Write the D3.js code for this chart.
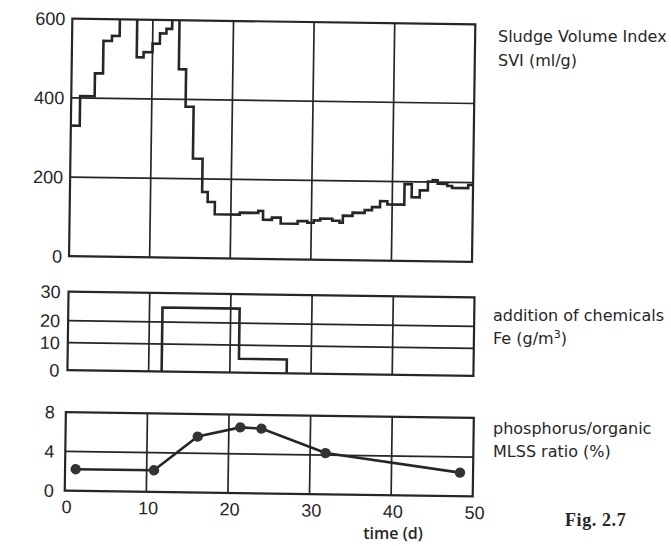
<!DOCTYPE html>
<html><head><meta charset="utf-8">
<script src="https://cdn.jsdelivr.net/npm/d3@7/dist/d3.min.js"></script>
<style>body{margin:0;background:#fff}</style></head>
<body><svg id="c" width="671" height="546"></svg>
<script>
// ---- data ----
const xTicks = [0, 10, 20, 30, 40, 50];

const sviDays   = [0, 1.1, 2.9, 3.9, 4.95, 5.9, 8.05, 8.9, 10.0, 10.9, 11.7, 12.4, 13.3, 14.2, 15.2, 16.4, 17.1, 18.0, 21.1, 23.4, 24.0, 25.1, 26.2, 28.3, 29.5, 30.3, 31.1, 32.6, 33.5, 33.9, 35.1, 36.6, 37.5, 38.5, 39.4, 41.5, 42.4, 43.4, 44.4, 45.0, 45.6, 46.8, 47.4, 49.4];
const sviValues = [330, 405, 463, 545, 558, 640, 505, 518, 540, 566, 578, 640, 476, 382, 251, 167, 142, 111, 116, 121, 99, 105, 90, 97, 93, 99, 104, 99, 94, 112, 120, 127, 135, 150, 142, 194, 161, 179, 201, 205, 196, 191, 186, 194];
const sviTicks  = [0, 200, 400, 600];

const feDays   = [11.6, 11.6, 21.1, 27.0];
const feValues = [0, 25, 5, 0];
const feTicks  = [0, 10, 20, 30];

const pDays   = [1.3, 10.9, 16.2, 21.4, 24.0, 31.9, 48.4];
const pValues = [2.2, 2.2, 5.7, 6.7, 6.6, 4.2, 2.4];
const pTicks  = [0, 4, 8];

const labels = {
  svi: ["Sludge Volume Index", "SVI (ml/g)"],
  fe: ["addition of chemicals", "Fe (g/m"],
  p: ["phosphorus/organic", "MLSS ratio (%)"],
  xTitle: "time (d)",
  fig: "Fig. 2.7"
};

// ---- drawing ----
const ink = "#262626";
const svg = d3.select("#c");
svg.append("rect").attr("width", 671).attr("height", 546).attr("fill", "#fff");
const chart = svg.append("g").attr("transform", "rotate(0.8,270,260)");
const tickFont = "'Liberation Sans', Arial, sans-serif";

function panel(id, xr, y, ticks, tickX) {
  const x = d3.scaleLinear().domain([0, 50]).range(xr);
  const g = chart.append("g");
  const y0 = y(ticks[0]), y1 = y(ticks[ticks.length - 1]);
  g.selectAll(".vg").data(xTicks.slice(1, -1)).join("line")
    .attr("x1", d => x(d)).attr("x2", d => x(d))
    .attr("y1", y1).attr("y2", y0)
    .attr("stroke", ink).attr("stroke-width", 1.7);
  g.selectAll(".hg").data(ticks.slice(1, -1)).join("line")
    .attr("x1", xr[0]).attr("x2", xr[1])
    .attr("y1", d => y(d)).attr("y2", d => y(d))
    .attr("stroke", ink).attr("stroke-width", 1.7);
  g.append("rect").attr("x", xr[0]).attr("y", y1)
    .attr("width", xr[1] - xr[0]).attr("height", y0 - y1)
    .attr("fill", "none").attr("stroke", ink).attr("stroke-width", 2.2);
  g.selectAll(".yl").data(ticks).join("text")
    .attr("x", tickX).attr("y", d => y(d)).attr("dy", "0.36em")
    .attr("text-anchor", "end")
    .attr("font-family", tickFont).attr("font-size", 18).attr("fill", ink)
    .text(d => d);
  chart.append("clipPath").attr("id", id).append("rect")
    .attr("x", xr[0]).attr("y", y1).attr("width", xr[1] - xr[0]).attr("height", y0 - y1);
  return { x, g };
}

// top panel: SVI
const ySvi = d3.scaleLinear().domain([0, 600]).range([259, 21.5]);
const pTop = panel("clipTop", [69, 472], ySvi, sviTicks, 62);
const sviData = sviDays.map((d, i) => ({ d, v: sviValues[i] }));
sviData.push({ d: 50, v: sviValues[sviValues.length - 1] });
pTop.g.append("path")
  .attr("d", d3.line().curve(d3.curveStepAfter).x(p => pTop.x(p.d)).y(p => ySvi(p.v))(sviData))
  .attr("fill", "none").attr("stroke", ink).attr("stroke-width", 2.6)
  .attr("clip-path", "url(#clipTop)");

// middle panel: Fe
const yFe = d3.scaleLinear().domain([0, 10, 20, 30]).range([373, 345.5, 323.5, 294.5]);
const pMid = panel("clipMid", [69, 475], yFe, feTicks, 61);
const feData = feDays.map((d, i) => ({ d, v: feValues[i] }));
pMid.g.append("path")
  .attr("d", d3.line().curve(d3.curveStepAfter).x(p => pMid.x(p.d)).y(p => yFe(p.v))(feData))
  .attr("fill", "none").attr("stroke", ink).attr("stroke-width", 2.6);

// bottom panel: P ratio
const yP = d3.scaleLinear().domain([0, 8]).range([493.5, 415]);
const pBot = panel("clipBot", [68, 476], yP, pTicks, 57);
const pData = pDays.map((d, i) => ({ d, v: pValues[i] }));
pBot.g.append("path")
  .attr("d", d3.line().x(p => pBot.x(p.d)).y(p => yP(p.v))(pData))
  .attr("fill", "none").attr("stroke", ink).attr("stroke-width", 2.6);
pBot.g.selectAll(".pt").data(pData).join("circle")
  .attr("cx", p => pBot.x(p.d)).attr("cy", p => yP(p.v)).attr("r", 5.2)
  .attr("fill", "#333");

// x axis labels (bottom)
chart.selectAll(".xl").data(xTicks).join("text")
  .attr("x", d => pBot.x(d) + 2).attr("y", 516)
  .attr("text-anchor", "middle")
  .attr("font-family", tickFont).attr("font-size", 18).attr("fill", ink)
  .text(d => d);
svg.append("text").attr("x", 393).attr("y", 539).attr("text-anchor", "middle")
  .attr("font-family", "'Open Sans', 'DejaVu Sans', sans-serif").attr("font-size", 16).attr("font-weight", 600)
  .attr("fill", ink).text(labels.xTitle);

// right side labels
const lf = "'DejaVu Sans', sans-serif";
function rlabel(x, y, txt) {
  return svg.append("text").attr("x", x).attr("y", y)
    .attr("font-family", lf).attr("font-size", 16).attr("fill", ink).text(txt);
}
rlabel(498, 42, labels.svi[0]);
rlabel(498, 66, labels.svi[1]);
rlabel(493, 321, labels.fe[0]);
const fe2 = rlabel(493, 344, labels.fe[1]);
fe2.append("tspan").attr("dy", -6).attr("font-size", 11).text("3");
fe2.append("tspan").attr("dy", 6).text(")");
rlabel(493, 434, labels.p[0]);
rlabel(493, 457, labels.p[1]);
svg.append("text").attr("x", 565).attr("y", 526)
  .attr("font-family", "'Liberation Serif', 'Times New Roman', serif").attr("font-size", 18)
  .attr("font-weight", "bold").attr("letter-spacing", 0.6).attr("fill", ink).text(labels.fig);
</script>
</body></html>
